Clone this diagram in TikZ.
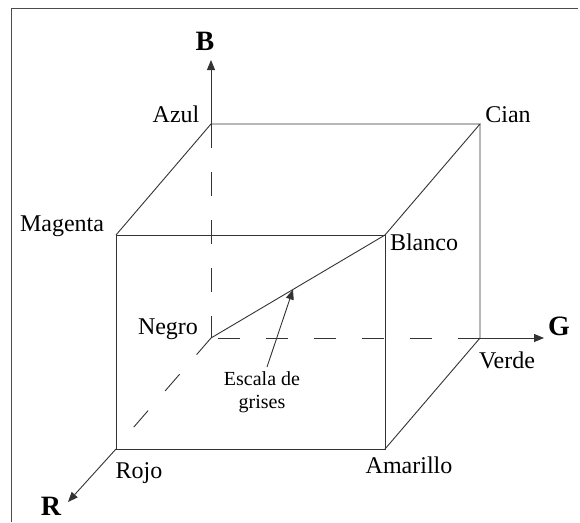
\documentclass[tikz,border=0pt]{standalone}
\usepackage{fontspec}
\setmainfont{Liberation Serif}
\usetikzlibrary{arrows.meta}
\tikzset{
  edge/.style={draw=black!80, line width=0.9pt},
  dash1/.style={edge, dash pattern=on 22pt off 26pt},
  dash2/.style={edge, dash pattern=on 24pt off 24pt},
  axis/.style={edge, -{Triangle[length=10pt,width=8pt]}},
  lbl/.style={anchor=base, inner sep=0pt, font=\fontsize{24}{28}\selectfont},
  axlbl/.style={anchor=base, inner sep=0pt, font=\fontsize{28}{32}\selectfont\bfseries},
  small/.style={inner sep=0pt, align=center, font=\fontsize{20}{23}\selectfont}
}
\begin{document}
\begin{tikzpicture}[x=1pt,y=-1pt]
\useasboundingbox (0,0) rectangle (580,522);
\draw[draw=black!70, line width=0.9pt] (11,522) -- (11,8) -- (578,8);
% corners
\coordinate (azul) at (211,124);
\coordinate (cian) at (480,124);
\coordinate (mag) at (116,235);
\coordinate (blanco) at (385,235);
\coordinate (negro) at (211,338);
\coordinate (verde) at (480,338);
\coordinate (rojo) at (116,449);
\coordinate (amar) at (385,449);
\coordinate (Btip) at (211,60);
\coordinate (Gtip) at (544,338);
\coordinate (Rtip) at (68,502);
\coordinate (rdash) at (133,428);
\coordinate (escA) at (267,367);
\coordinate (escB) at (293,289.5);
% solid edges
\draw[edge] (mag) -- (blanco) -- (amar) -- (rojo) -- cycle;
\draw[edge] (mag) -- (azul) -- (cian) -- (blanco);
\draw[edge] (cian) -- (verde) -- (amar);
\draw[edge] (negro) -- (blanco);
% hidden edges
\draw[dash2] (azul) -- (negro);
\draw[dash1] (verde) -- (negro);
\draw[dash1] (negro) -- (rdash);
% axes
\draw[axis] (azul) -- (Btip);
\draw[axis] (verde) -- (Gtip);
\draw[axis] (rojo) -- (Rtip);
\draw[axis] (escA) -- (escB);
% labels
\node[axlbl] (lB) at (205,50) {B};
\node[axlbl] (lG) at (559,335) {G};
\node[axlbl] (lR) at (51,515) {R};
\node[lbl] (lazul) at (176,122) {Azul};
\node[lbl] (lcian) at (508,122) {Cian};
\node[lbl] (lmag) at (62,231) {Magenta};
\node[lbl] (lblanco) at (424,250) {Blanco};
\node[lbl] (lnegro) at (168,334) {Negro};
\node[lbl] (lverde) at (507,368) {Verde};
\node[lbl] (lrojo) at (139,478) {Rojo};
\node[lbl] (lamar) at (409,473) {Amarillo};
\node[small, anchor=north] (esc) at (262,371) {Escala de\\grises};
\end{tikzpicture}
\end{document}
